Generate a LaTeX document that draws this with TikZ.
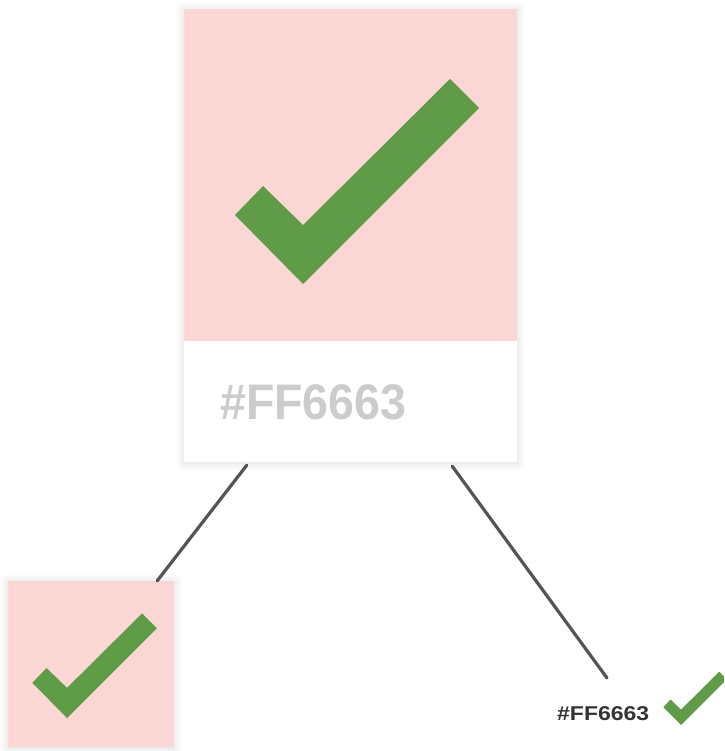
\documentclass[tikz,border=0pt]{standalone}
\usepackage{fontspec}
\setmainfont{Liberation Sans}
\newfontfamily\bighexfont[FakeStretch=0.93]{Liberation Sans}
\newfontfamily\smallhexfont[FakeStretch=1.15]{Liberation Sans}
\usetikzlibrary{calc,shadows.blur}
\definecolor{swatchpink}{RGB}{250,214,212}
\definecolor{tickgreen}{RGB}{96,155,72}
\definecolor{hexgray}{RGB}{204,204,204}
\definecolor{linkgray}{RGB}{82,84,86}
\begin{document}
\begin{tikzpicture}[x=1pt, y=-1pt,
  softshadow/.style={blur shadow={shadow xshift=0pt, shadow yshift=-1pt, shadow blur radius=9pt, shadow blur steps=12, shadow opacity=14}},
  link/.style={linkgray, line width=3.2pt, line cap=round},
  tick/.pic={\fill[tickgreen] (0,0) -- (-68,-69) -- (-40,-98) -- (0,-59) -- (147,-205) -- (176,-176) -- cycle;}]
  \useasboundingbox (0,0) rectangle (724,751);
  % big card with its label
  \node[fill=white, softshadow, minimum width=333pt, minimum height=453pt, inner sep=0pt] (card) at (350.5,235.5) {};
  \fill[swatchpink] (card.north west) rectangle ($(card.north east)+(0,332)$);
  \pic at (303,284) {tick};
  \node[anchor=base west, inner sep=0pt, text=hexgray, font=\bighexfont\bfseries\fontsize{50}{50}\selectfont] (bighex) at (220,419) {\#FF6663};
  % small swatch
  \node[fill=swatchpink, softshadow, minimum width=166pt, minimum height=166pt, inner sep=0pt] (swatch) at (91,664) {};
  \pic[scale=0.51] at (67,718) {tick};
  % inline label
  \node[anchor=base west, inner sep=0pt, text=black!80, font=\smallhexfont\bfseries\fontsize{20}{20}\selectfont] (smallhex) at (557,720) {\#FF6663};
  \begin{scope}
    \clip (0,0) rectangle (724,751);
    \pic[scale=0.26] at (681,725) {tick};
  \end{scope}
  \coordinate (tip) at (607,678);
  \draw[link] ($(card.south west)+(63,3)$) -- ($(swatch.north east)+(-17,0)$);
  \draw[link] ($(card.south east)+(-65,4)$) -- (tip);
\end{tikzpicture}
\end{document}
